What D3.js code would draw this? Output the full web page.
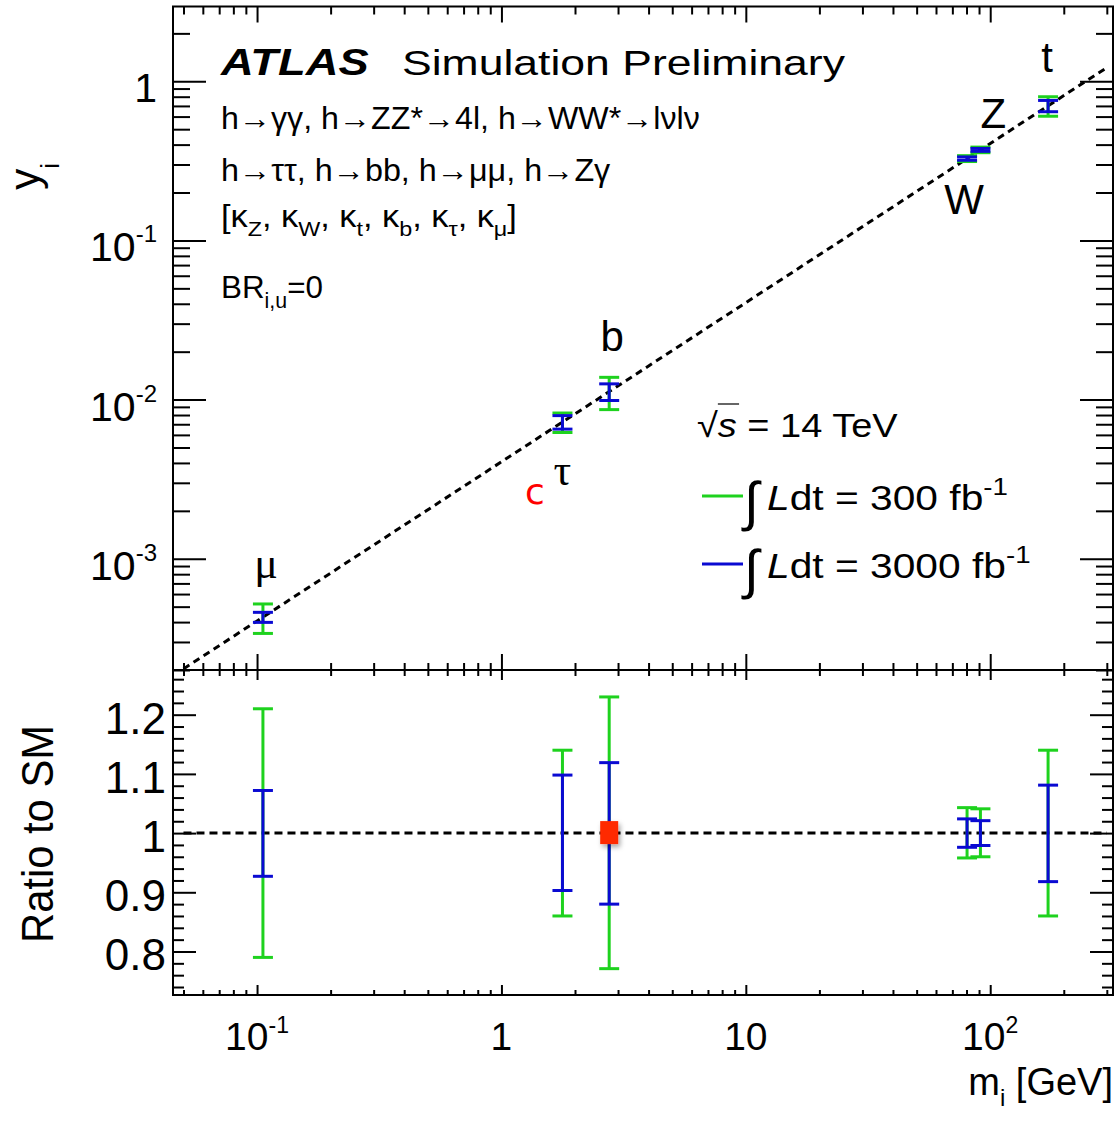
<!DOCTYPE html>
<html>
<head>
<meta charset="utf-8">
<script src="https://cdn.jsdelivr.net/npm/d3@7"></script>
<style>
  body { margin: 0; background: #fff; }
  svg { display: block; }
  text { font-family: "Liberation Sans", Arial, sans-serif; fill: #000; }
</style>
</head>
<body>
<svg id="chart" width="1115" height="1124"></svg>
<script>
// particles, masses in GeV, and projected ratio-to-SM uncertainties
const particles = ["μ", "τ", "b", "W", "Z", "t"];
const masses = [0.1057, 1.777, 2.76, 80.4, 91.19, 172.5];
const ratio300Lo = [0.79, 0.86, 0.771, 0.958, 0.96, 0.86];
const ratio300Hi = [1.21, 1.14, 1.23, 1.043, 1.041, 1.14];
const ratio3000Lo = [0.927, 0.903, 0.88, 0.976, 0.979, 0.918];
const ratio3000Hi = [1.072, 1.098, 1.119, 1.024, 1.021, 1.081];
const VEV = 246;               // y = m / v for the SM line
const smLineRange = [0.05, 300];
const charmMass = 1.27;

// tick labels
const xMajor = [0.1, 1, 10, 100];
const xLabels = [["10", "-1"], ["1", ""], ["10", ""], ["10", "2"]];
const yTopMajor = [1, 0.1, 0.01, 0.001];
const yTopLabels = [["1", ""], ["10", "-1"], ["10", "-2"], ["10", "-3"]];
const yRatioMajor = [0.8, 0.9, 1, 1.1, 1.2];
const yRatioLabels = ["0.8", "0.9", "1", "1.1", "1.2"];

// label placement (pixels from the point)
const labelOffsets = [[3, -39], [0, 63], [3, -41], [-3, 55], [13, -22], [-1, -34]];

const GREEN = "#1ed21e", BLUE = "#0a0ad2";
const L = 173, R = 1113, T = 6.5, MID = 670, B = 995;

const svg = d3.select("#chart");
svg.append("rect").attr("width", 1115).attr("height", 1124).attr("fill", "#fff");

const defs = svg.append("defs");
defs.append("clipPath").attr("id", "clipTop")
  .append("rect").attr("x", L).attr("y", T).attr("width", R - L).attr("height", MID - T);
defs.append("filter").attr("id", "shadow").attr("x", "-50%").attr("y", "-50%").attr("width", "200%").attr("height", "200%")
  .append("feDropShadow").attr("dx", 2).attr("dy", 3).attr("stdDeviation", 2.5).attr("flood-opacity", 0.35);

const x = d3.scaleLog().domain([0.0453, 318]).range([L, R]);
const yT = d3.scaleLog().domain([2e-4, 2.95]).range([MID, T]);
const yR = d3.scaleLinear().domain([0.7265, 1.2755]).range([B, MID]);

const isDecade = v => Math.abs(Math.log10(v) - Math.round(Math.log10(v))) < 1e-6;
const xMinor = x.ticks().filter(v => !isDecade(v));
const yTopMinor = yT.ticks().filter(v => !isDecade(v));
const yRatioMinor = d3.range(0.74, 1.275, 0.02).filter(v => Math.abs(v * 10 - Math.round(v * 10)) > 1e-6);

// ticks drawn inside the frame, ROOT style
function ticks(gen, scale, vals, size, tx, ty) {
  svg.append("g")
    .attr("transform", "translate(" + tx + "," + ty + ")")
    .call(gen(scale).tickValues(vals).tickSize(-size).tickFormat(""))
    .call(g => g.select(".domain").remove())
    .selectAll("line").attr("stroke", "#000").attr("stroke-width", 2);
}

// top panel
ticks(d3.axisTop, x, xMajor, 16, 0, T);
ticks(d3.axisTop, x, xMinor, 8, 0, T);
ticks(d3.axisBottom, x, xMajor, 16, 0, MID);
ticks(d3.axisBottom, x, xMinor, 7, 0, MID);
ticks(d3.axisLeft, yT, yTopMajor, 33, L, 0);
ticks(d3.axisLeft, yT, yTopMinor, 17, L, 0);
ticks(d3.axisRight, yT, yTopMajor, 33, R, 0);
ticks(d3.axisRight, yT, yTopMinor, 17, R, 0);
// ratio panel
ticks(d3.axisTop, x, xMajor, 10, 0, MID);
ticks(d3.axisTop, x, xMinor, 6, 0, MID);
ticks(d3.axisBottom, x, xMajor, 10, 0, B);
ticks(d3.axisBottom, x, xMinor, 5, 0, B);
ticks(d3.axisLeft, yR, yRatioMajor, 23, L, 0);
ticks(d3.axisLeft, yR, yRatioMinor, 11, L, 0);
ticks(d3.axisRight, yR, yRatioMajor, 23, R, 0);
ticks(d3.axisRight, yR, yRatioMinor, 11, R, 0);

// frames
[[T, MID], [MID, B]].forEach(p => {
  svg.append("rect").attr("x", L).attr("y", p[0]).attr("width", R - L).attr("height", p[1] - p[0])
    .attr("fill", "none").attr("stroke", "#000").attr("stroke-width", 2);
});

// SM lines
svg.append("path")
  .datum(smLineRange)
  .attr("clip-path", "url(#clipTop)")
  .attr("d", d3.line().x(m => x(m)).y(m => yT(m / VEV)))
  .attr("fill", "none").attr("stroke", "#000").attr("stroke-width", 3).attr("stroke-dasharray", "7,5");
svg.append("path")
  .datum(smLineRange)
  .attr("d", d3.line().x(m => x(m)).y(() => yR(1)))
  .attr("fill", "none").attr("stroke", "#000").attr("stroke-width", 3).attr("stroke-dasharray", "8,5");

// error bars
const series = [
  { lo: ratio300Lo, hi: ratio300Hi, color: GREEN },
  { lo: ratio3000Lo, hi: ratio3000Hi, color: BLUE }
];
const CAP = 10;
function errBar(g, cx, y1, y2) {
  g.append("line").attr("x1", cx).attr("x2", cx).attr("y1", y1).attr("y2", y2);
  g.append("line").attr("x1", cx - CAP).attr("x2", cx + CAP).attr("y1", y1).attr("y2", y1);
  g.append("line").attr("x1", cx - CAP).attr("x2", cx + CAP).attr("y1", y2).attr("y2", y2);
}
series.forEach(s => {
  const g = svg.append("g").attr("stroke", s.color).attr("stroke-width", 3);
  masses.forEach((m, i) => {
    const c = m / VEV;
    errBar(g, x(m), yT(c * s.hi[i]), yT(c * s.lo[i]));
    errBar(g, x(m), yR(s.hi[i]), yR(s.lo[i]));
  });
});

// red marker in ratio panel (b)
svg.append("rect")
  .attr("x", x(masses[2]) - 9).attr("y", yR(1) - 12)
  .attr("width", 18).attr("height", 23)
  .attr("fill", "#ff2a00").attr("filter", "url(#shadow)");

// particle labels
particles.forEach((p, i) => {
  const greek = p === "μ" || p === "τ";
  svg.append("text")
    .attr("x", x(masses[i]) + labelOffsets[i][0])
    .attr("y", yT(masses[i] / VEV) + labelOffsets[i][1])
    .attr("text-anchor", "middle")
    .attr("font-size", greek ? 44 : 42)
    .style("font-family", greek ? "'Liberation Serif', serif" : null)
    .text(p);
});
svg.append("text")
  .attr("x", x(charmMass) + 8).attr("y", yT(charmMass / VEV) + 59)
  .attr("text-anchor", "middle").attr("font-size", 36)
  .style("font-family", "'DejaVu Sans', sans-serif").style("fill", "#ff0000")
  .text("c");

// rich text helpers
function rich(g, segs, fs) {
  const t = g.append("text").attr("font-size", fs);
  let shift = 0;
  segs.forEach(s => {
    const target = s.sub ? fs * 0.3 : s.sup ? -fs * 0.42 : 0;
    const ts = t.append("tspan").text(s.t).attr("dy", target - shift);
    shift = target;
    if (s.sub || s.sup) ts.attr("font-size", fs * 0.68);
    if (s.it) ts.style("font-style", "italic");
    if (s.b) ts.style("font-weight", "bold");
  });
  return t;
}
function fit(segs, fs, px, py, width, sx) {
  const g = svg.append("g");
  rich(g, segs, fs);
  const k = sx || width / g.node().getBBox().width;
  g.attr("transform", "translate(" + px + "," + py + ") scale(" + k + ",1)");
  return k;
}

fit([{ t: "ATLAS", b: true, it: true }], 36, 221, 75, 149);
fit([{ t: "Simulation Preliminary" }], 36, 402, 75, 443);
fit([{ t: "h→γγ, h→ZZ*→4l, h→WW*→lνlν" }], 31, 221, 129, 479);
fit([{ t: "h→ττ, h→bb, h→μμ, h→Zγ" }], 31, 221, 181, 390);
fit([{ t: "[κ" }, { t: "Z", sub: true }, { t: ", κ" }, { t: "W", sub: true }, { t: ", κ" }, { t: "t", sub: true },
     { t: ", κ" }, { t: "b", sub: true }, { t: ", κ" }, { t: "τ", sub: true }, { t: ", κ" }, { t: "μ", sub: true }, { t: "]" }],
    31, 221, 227, 296);
fit([{ t: "BR" }, { t: "i,u", sub: true }, { t: "=0" }], 32, 221, 298, 102);

// legend
const sq = svg.append("g");
const sqText = rich(sq, [{ t: "√" }, { t: "s", it: true }, { t: " = 14 TeV" }], 34);
const sqNode = sqText.node();
sq.append("line")
  .attr("x1", sqNode.getStartPositionOfChar(1).x).attr("x2", sqNode.getEndPositionOfChar(1).x + 2)
  .attr("y1", -33).attr("y2", -33).attr("stroke", "#000").attr("stroke-width", 1.2);
const ksq = 201 / sq.node().getBBox().width;
sq.attr("transform", "translate(697,437) scale(" + ksq + ",1)");

const legendRows = [{ lumi: "300", color: GREEN, y: 510 }, { lumi: "3000", color: BLUE, y: 578 }];
let kLeg = null;
legendRows.forEach(r => {
  svg.append("line").attr("x1", 702).attr("x2", 743).attr("y1", r.y - 14).attr("y2", r.y - 14)
    .attr("stroke", r.color).attr("stroke-width", 3);
  svg.append("text").attr("x", 744).attr("y", r.y + 10).attr("font-size", 54)
    .style("font-family", "'DejaVu Sans', sans-serif").style("font-weight", "300").text("∫");
  kLeg = fit([{ t: "L", it: true }, { t: "dt = " + r.lumi + " fb" }, { t: "-1", sup: true }], 35, 767, r.y, 241, kLeg);
});

// tick labels
xMajor.forEach((v, i) => {
  const t = svg.append("text").attr("x", x(v)).attr("y", 1050).attr("text-anchor", "middle").attr("font-size", 39);
  t.append("tspan").text(xLabels[i][0]);
  if (xLabels[i][1]) t.append("tspan").attr("font-size", 23).attr("dy", -17).text(xLabels[i][1]);
});
yTopMajor.forEach((v, i) => {
  const t = svg.append("text").attr("x", 157).attr("y", yT(v) + 21).attr("text-anchor", "end").attr("font-size", 41);
  t.append("tspan").text(yTopLabels[i][0]);
  if (yTopLabels[i][1]) t.append("tspan").attr("font-size", 24).attr("dy", -19).text(yTopLabels[i][1]);
});
yRatioMajor.forEach((v, i) => {
  svg.append("text").attr("x", 166).attr("y", yR(v) + 19).attr("text-anchor", "end").attr("font-size", 44)
    .text(yRatioLabels[i]);
});

// axis titles
const xt = svg.append("text").attr("x", 1113).attr("y", 1095).attr("text-anchor", "end").attr("font-size", 38);
xt.append("tspan").text("m");
xt.append("tspan").attr("font-size", 24).attr("dy", 11).text("i");
xt.append("tspan").attr("dy", -11).text(" [GeV]");

const yt = svg.append("text").attr("transform", "translate(39,163) rotate(-90)").attr("text-anchor", "end").attr("font-size", 42);
yt.append("tspan").text("y");
yt.append("tspan").attr("font-size", 26).attr("dy", 20).text("i");

svg.append("text").attr("transform", "translate(53,725) rotate(-90)").attr("text-anchor", "end")
  .attr("font-size", 45).attr("textLength", 218).attr("lengthAdjust", "spacingAndGlyphs")
  .text("Ratio to SM");
</script>
</body>
</html>
